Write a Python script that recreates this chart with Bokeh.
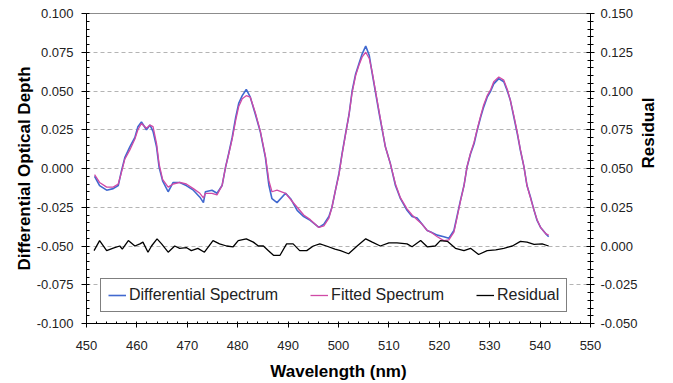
import math
from bokeh.plotting import figure
from bokeh.models import (Range1d, LinearAxis, FixedTicker, NumeralTickFormatter,
                          Legend, LegendItem)
from bokeh.embed import file_html
from bokeh.resources import INLINE

# ---- data ----
wavelength = [
    451.6, 452.6, 454.0, 455.3, 456.3, 456.9, 457.6, 458.6, 459.6, 460.2,
    460.9, 461.9, 462.6, 463.2, 463.9, 464.4, 465.1, 466.2, 467.2, 468.5,
    469.8, 471.2, 472.5, 473.2, 473.6, 474.9, 475.9, 476.9, 477.6, 478.2,
    478.9, 479.6, 480.2, 480.9, 481.7, 482.5, 483.5, 484.5, 485.5, 486.2,
    486.8, 487.8, 489.5, 490.5, 491.8, 493.1, 494.4, 496.1, 497.1, 498.1,
    498.7, 499.4, 500.1, 500.7, 501.4, 502.1, 502.7, 503.4, 504.1, 504.7,
    505.4, 506.1, 506.7, 507.4, 508.1, 508.7, 509.3, 510.3, 511.3, 512.3,
    513.6, 514.6, 515.6, 516.6, 517.6, 518.3, 519.6, 520.9, 521.9, 522.9,
    523.5, 524.2, 524.9, 525.5, 526.2, 526.9, 527.5, 528.2, 528.8, 529.5,
    530.2, 530.8, 531.8, 532.8, 533.5, 534.1, 534.8, 535.5, 536.1, 536.8,
    537.4, 538.1, 538.8, 539.4, 540.1, 541.1, 541.7]

differential = [
    -0.005, -0.011, -0.014, -0.013, -0.011, -0.002, 0.007, 0.014, 0.020, 0.027,
    0.030, 0.025, 0.028, 0.024, 0.014, 0.001, -0.008, -0.015, -0.009, -0.009,
    -0.011, -0.014, -0.0185, -0.022, -0.015, -0.014, -0.016, -0.011, 0.001, 0.0095,
    0.020, 0.033, 0.042, 0.047, 0.051, 0.046, 0.035, 0.0235, 0.007, -0.011,
    -0.0195, -0.022, -0.016, -0.0195, -0.027, -0.031, -0.0335, -0.038, -0.036, -0.031,
    -0.025, -0.014, -0.003, 0.0095, 0.0225, 0.035, 0.050, 0.061, 0.068, 0.074,
    0.079, 0.073, 0.061, 0.048, 0.035, 0.0245, 0.014, 0.003, -0.011, -0.0195,
    -0.027, -0.031, -0.032, -0.036, -0.040, -0.041, -0.043, -0.044, -0.045, -0.040,
    -0.031, -0.0206, -0.011, 0.001, 0.0095, 0.016, 0.0245, 0.033, 0.0396, 0.046,
    0.050, 0.0546, 0.058, 0.056, 0.050, 0.044, 0.033, 0.022, 0.0116, 0.001,
    -0.011, -0.0185, -0.027, -0.0335, -0.038, -0.042, -0.044]

fitted = [
    -0.004, -0.009, -0.012, -0.012, -0.010, -0.003, 0.006, 0.012, 0.019, 0.025,
    0.029, 0.026, 0.028, 0.027, 0.016, 0.003, -0.007, -0.012, -0.010, -0.009,
    -0.010, -0.013, -0.016, -0.019, -0.016, -0.016, -0.017, -0.011, 0.001, 0.009,
    0.019, 0.031, 0.040, 0.045, 0.047, 0.046, 0.036, 0.024, 0.008, -0.008,
    -0.015, -0.014, -0.016, -0.020, -0.025, -0.030, -0.033, -0.038, -0.037, -0.032,
    -0.025, -0.014, -0.004, 0.009, 0.022, 0.035, 0.049, 0.060, 0.067, 0.072,
    0.075, 0.071, 0.062, 0.049, 0.036, 0.025, 0.014, 0.003, -0.010, -0.019,
    -0.026, -0.030, -0.033, -0.036, -0.040, -0.041, -0.044, -0.0465, -0.046, -0.041,
    -0.032, -0.021, -0.011, 0.001, 0.010, 0.017, 0.025, 0.034, 0.041, 0.047,
    0.051, 0.056, 0.059, 0.057, 0.051, 0.044, 0.034, 0.023, 0.012, 0.001,
    -0.011, -0.019, -0.027, -0.033, -0.038, -0.042, -0.043]

residual_wavelength = [
    451.5, 452.6, 454.0, 455.3, 456.6, 457.1, 458.3, 459.6, 460.6, 461.2,
    462.2, 462.9, 464.0, 464.9, 466.2, 467.5, 468.5, 469.8, 470.8, 472.1,
    473.4, 475.1, 476.4, 477.8, 479.1, 480.1, 481.7, 483.1, 484.1, 485.1,
    486.1, 487.1, 488.4, 489.7, 491.0, 492.3, 493.7, 495.0, 496.3, 497.6,
    499.3, 500.4, 502.0, 503.7, 505.4, 506.7, 508.3, 510.0, 511.6, 513.6,
    514.6, 516.3, 517.6, 519.2, 520.2, 521.6, 523.2, 524.9, 526.2, 527.8,
    529.5, 531.2, 532.8, 534.5, 536.1, 537.4, 538.8, 540.4, 541.7]

residual = [
    -0.003, 0.0035, -0.003, -0.0014, 0.0, -0.002, 0.0035, 0.0, 0.0014, 0.0025,
    -0.004, 0.0, 0.0046, 0.0014, -0.004, 0.0, -0.0015, -0.001, -0.003, -0.0015,
    -0.004, 0.0035, 0.0014, 0.0, -0.0005, 0.0035, 0.0046, 0.0025, 0.0, 0.0,
    -0.003, -0.006, -0.006, 0.0014, 0.0014, -0.003, -0.003, 0.0, 0.0014, 0.0,
    -0.002, -0.003, -0.005, 0.0, 0.0046, 0.0025, 0.0, 0.002, 0.002, 0.0014,
    -0.0005, 0.0035, -0.0005, 0.0, 0.0035, 0.003, -0.0015, -0.003, -0.0015, -0.0055,
    -0.003, -0.0025, -0.0015, 0.0, 0.003, 0.0025, 0.001, 0.0014, 0.0]

x_ticks = [450, 460, 470, 480, 490, 500, 510, 520, 530, 540, 550]
left_ticks = [-0.1, -0.075, -0.05, -0.025, 0.0, 0.025, 0.05, 0.075, 0.1]
right_ticks = [-0.05, -0.025, 0.0, 0.025, 0.05, 0.075, 0.1, 0.125, 0.15]

FONT = "Liberation Sans"

p = figure(width=673, height=383, output_backend="svg", toolbar_location=None,
           x_range=Range1d(450, 550), y_range=Range1d(-0.1, 0.1),
           min_border_left=86, min_border_right=83, min_border_top=13,
           min_border_bottom=60)
p.extra_y_ranges = {"res": Range1d(-0.05, 0.15)}
p.outline_line_color = "#8c8c8c"
p.outline_line_width = 1
p.background_fill_color = "white"
p.border_fill_color = "white"

# grid
p.xgrid.visible = False
p.ygrid.ticker = FixedTicker(ticks=left_ticks)
p.ygrid.grid_line_color = "#b4b4b4"
p.ygrid.grid_line_dash = "4 3"
p.ygrid.grid_line_width = 1

def style_axis(ax):
    ax.axis_line_color = "black"
    ax.major_tick_line_color = "black"
    ax.minor_tick_line_color = "black"
    ax.major_label_text_font = FONT
    ax.major_label_text_font_size = "13px"
    ax.major_label_text_color = "#222222"
    ax.axis_label_text_font = FONT
    ax.axis_label_text_font_size = "17px"
    ax.axis_label_text_font_style = "bold"
    ax.axis_label_text_color = "black"

# x axis
xa = p.xaxis[0]
xa.ticker = FixedTicker(ticks=x_ticks,
                        minor_ticks=[450 + 2 * i for i in range(51)])
xa.axis_label = "Wavelength (nm)"
style_axis(xa)
xa.major_tick_out = 4
xa.major_tick_in = 0
xa.minor_tick_in = 2
xa.minor_tick_out = 0
xa.major_label_standoff = 13
xa.axis_label_standoff = 9

# left axis
ya = p.yaxis[0]
ya.ticker = FixedTicker(ticks=left_ticks,
                        minor_ticks=[-0.1 + 0.005 * i for i in range(41)])
ya.formatter = NumeralTickFormatter(format="0.000")
ya.axis_label = "Differential Optical Depth"
style_axis(ya)
ya.major_tick_out = 5
ya.major_tick_in = 0
ya.minor_tick_in = 3
ya.minor_tick_out = 0
ya.major_label_standoff = 8
ya.axis_label_standoff = 0

# right axis
ra = LinearAxis(y_range_name="res", axis_label="Residual",
                ticker=FixedTicker(ticks=right_ticks,
                                   minor_ticks=[-0.05 + 0.005 * i for i in range(41)]),
                formatter=NumeralTickFormatter(format="0.000"))
style_axis(ra)
ra.major_tick_out = 4
ra.major_tick_in = 4
ra.minor_tick_in = 3
ra.minor_tick_out = 3
ra.major_label_standoff = 6
ra.axis_label_standoff = 8
try:
    ra.axis_label_orientation = math.pi / 2
except Exception:
    pass
p.add_layout(ra, "right")

# series
r_diff = p.line(wavelength, differential, line_color="#4169cf", line_width=1.6)
r_fit = p.line(wavelength, fitted, line_color="#d04aa6", line_width=1.3)
r_res = p.line(residual_wavelength, residual, line_color="black", line_width=1.3,
               y_range_name="res")

legend = Legend(items=[LegendItem(label="Differential Spectrum", renderers=[r_diff]),
                       LegendItem(label="Fitted Spectrum", renderers=[r_fit]),
                       LegendItem(label="Residual", renderers=[r_res])],
                orientation="horizontal", location=(14, 11), margin=0,
                padding=7, spacing=32, glyph_width=18, glyph_height=16,
                label_height=16, label_standoff=3,
                label_text_font=FONT, label_text_font_size="16px",
                label_text_color="#222222",
                border_line_color="black", border_line_width=1,
                background_fill_color="white", background_fill_alpha=1)
p.add_layout(legend, "center")

open("out.html", "w").write(file_html(p, INLINE))
